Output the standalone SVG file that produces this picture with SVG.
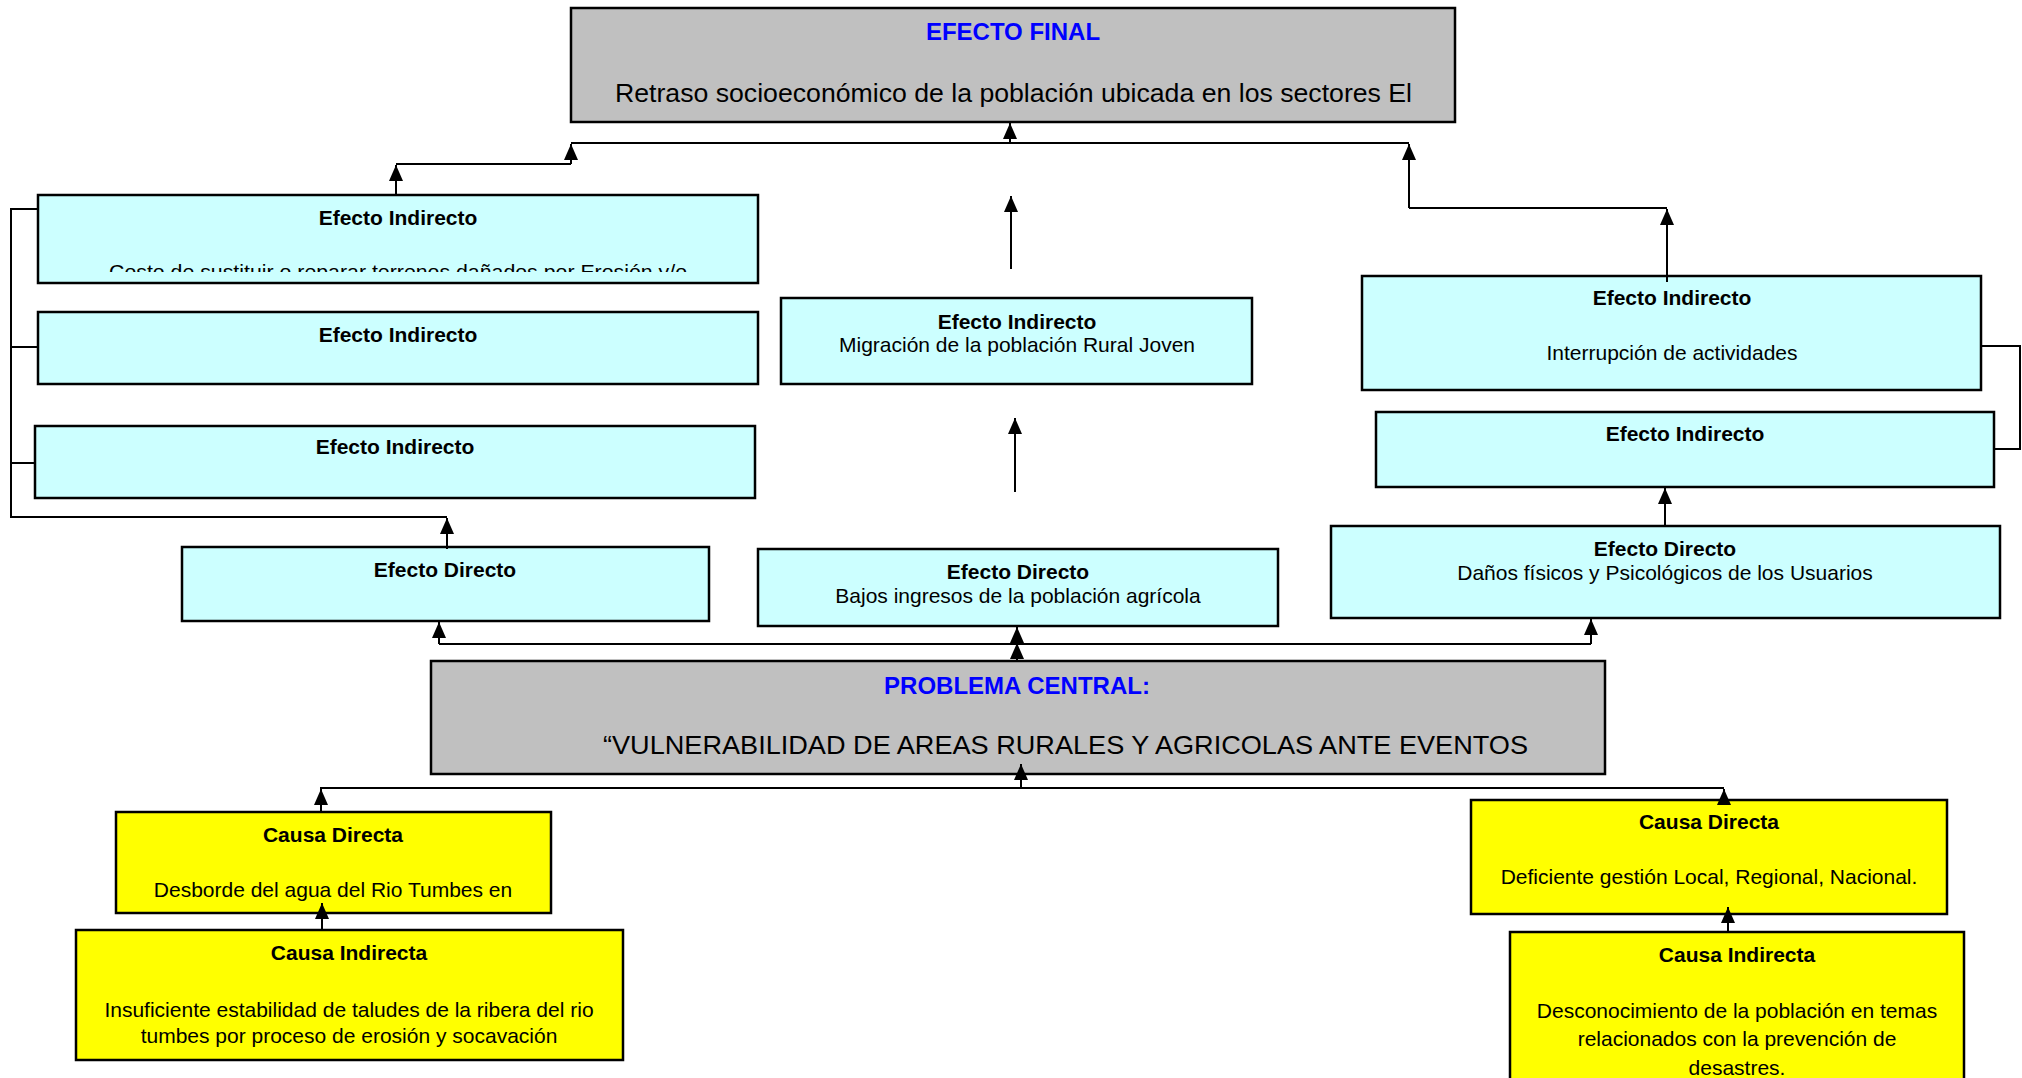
<svg xmlns="http://www.w3.org/2000/svg" width="2022" height="1078" viewBox="0 0 2022 1078">
<defs>
<style>
.box{stroke:#000;stroke-width:2.5}
.gray{fill:#C0C0C0}
.cyan{fill:#CCFFFF}
.yel{fill:#FFFF00}
text{font-family:"Liberation Sans",Arial,sans-serif;fill:#000}
.t{font-size:21px;font-weight:bold;text-anchor:middle}
.d{font-size:21px;text-anchor:middle}
.h{font-size:24px;font-weight:bold;fill:#0000FF;text-anchor:middle}
.big{font-size:26px}
.con{fill:none;stroke:#000;stroke-width:2}
</style>
<marker id="ah" markerUnits="userSpaceOnUse" markerWidth="18" markerHeight="16" refX="16" refY="7" orient="auto">
<path d="M0,0 L16,7 L0,14 Z" fill="#000"/>
</marker>
<clipPath id="clip1"><rect x="38" y="195" width="720" height="77"/></clipPath>
</defs>

<g id="efecto-final">
<rect class="box gray" x="571" y="8" width="884" height="114"/>
<text class="h" x="1013" y="40">EFECTO FINAL</text>
<text class="big" x="615" y="102" textLength="797" lengthAdjust="spacingAndGlyphs">Retraso socioeconómico de la población ubicada en los sectores El</text>
</g>

<g id="ei-left-1">
<rect class="box cyan" x="38" y="195" width="720" height="88"/>
<text class="t" x="398" y="225">Efecto Indirecto</text>
<text class="d" x="398" y="279" textLength="578" lengthAdjust="spacingAndGlyphs" clip-path="url(#clip1)">Costo de sustituir o reparar terrenos dañados por Erosión y/o</text>
</g>
<g id="ei-left-2">
<rect class="box cyan" x="38" y="312" width="720" height="72"/>
<text class="t" x="398" y="342">Efecto Indirecto</text>
</g>
<g id="ei-left-3">
<rect class="box cyan" x="35" y="426" width="720" height="72"/>
<text class="t" x="395" y="454">Efecto Indirecto</text>
</g>
<g id="ed-left">
<rect class="box cyan" x="182" y="547" width="527" height="74"/>
<text class="t" x="445" y="577">Efecto Directo</text>
</g>

<g id="ei-mid">
<rect class="box cyan" x="781" y="298" width="471" height="86"/>
<text class="t" x="1017" y="329">Efecto Indirecto</text>
<text class="d" x="1017" y="352">Migración de la población Rural Joven</text>
</g>
<g id="ed-mid">
<rect class="box cyan" x="758" y="549" width="520" height="77"/>
<text class="t" x="1018" y="579">Efecto Directo</text>
<text class="d" x="1018" y="603">Bajos ingresos de la población agrícola</text>
</g>

<g id="ei-right-1">
<rect class="box cyan" x="1362" y="276" width="619" height="114"/>
<text class="t" x="1672" y="305">Efecto Indirecto</text>
<text class="d" x="1672" y="360">Interrupción de actividades</text>
</g>
<g id="ei-right-2">
<rect class="box cyan" x="1376" y="412" width="618" height="75"/>
<text class="t" x="1685" y="441">Efecto Indirecto</text>
</g>
<g id="ed-right">
<rect class="box cyan" x="1331" y="526" width="669" height="92"/>
<text class="t" x="1665" y="556">Efecto Directo</text>
<text class="d" x="1665" y="580">Daños físicos y Psicológicos de los Usuarios</text>
</g>

<g id="problema-central">
<rect class="box gray" x="431" y="661" width="1174" height="113"/>
<text class="h" x="1017" y="694">PROBLEMA CENTRAL:</text>
<text class="big" x="603" y="754" textLength="925" lengthAdjust="spacingAndGlyphs">“VULNERABILIDAD DE AREAS RURALES Y AGRICOLAS ANTE EVENTOS</text>
</g>

<g id="cd-left">
<rect class="box yel" x="116" y="812" width="435" height="101"/>
<text class="t" x="333" y="842">Causa Directa</text>
<text class="d" x="333" y="897">Desborde del agua del Rio Tumbes en</text>
</g>
<g id="ci-left">
<rect class="box yel" x="76" y="930" width="547" height="130"/>
<text class="t" x="349" y="960">Causa Indirecta</text>
<text class="d" x="349" y="1017">Insuficiente estabilidad de taludes de la ribera del rio</text>
<text class="d" x="349" y="1043">tumbes por proceso de erosión y socavación</text>
</g>
<g id="cd-right">
<rect class="box yel" x="1471" y="800" width="476" height="114"/>
<text class="t" x="1709" y="829">Causa Directa</text>
<text class="d" x="1709" y="884">Deficiente gestión Local, Regional, Nacional.</text>
</g>
<g id="ci-right">
<rect class="box yel" x="1510" y="932" width="454" height="160"/>
<text class="t" x="1737" y="962">Causa Indirecta</text>
<text class="d" x="1737" y="1018">Desconocimiento de la población en temas</text>
<text class="d" x="1737" y="1046">relacionados con la prevención de</text>
<text class="d" x="1737" y="1075">desastres.</text>
</g>

<g id="connectors">
<path class="con" d="M1010,143 V123" marker-end="url(#ah)"/>
<path class="con" d="M571,143 H1409"/>
<path class="con" d="M571,164 V144" marker-end="url(#ah)"/>
<path class="con" d="M396,164 H571"/>
<path class="con" d="M396,194 V165" marker-end="url(#ah)"/>
<path class="con" d="M1409,208 V144" marker-end="url(#ah)"/>
<path class="con" d="M1409,208 H1667"/>
<path class="con" d="M1667,282 V209" marker-end="url(#ah)"/>
<path class="con" d="M1011,269 V196" marker-end="url(#ah)"/>
<path class="con" d="M1015,492 V418" marker-end="url(#ah)"/>
<path class="con" d="M37,209 H11 V517 H447"/>
<path class="con" d="M11,347 H38"/>
<path class="con" d="M11,463 H35"/>
<path class="con" d="M447,549 V518" marker-end="url(#ah)"/>
<path class="con" d="M1981,346 H2020 V449 H1994"/>
<path class="con" d="M1665,526 V488" marker-end="url(#ah)"/>
<path class="con" d="M439,644 H1591"/>
<path class="con" d="M439,644 V622" marker-end="url(#ah)"/>
<path class="con" d="M1591,644 V619" marker-end="url(#ah)"/>
<path class="con" d="M1017,644 V627" marker-end="url(#ah)"/>
<path class="con" d="M1017,661 V643" marker-end="url(#ah)"/>
<path class="con" d="M1021,788 V764" marker-end="url(#ah)"/>
<path class="con" d="M320,788 H1724"/>
<path class="con" d="M321,812 V789" marker-end="url(#ah)"/>
<path class="con" d="M1724,800 V789" marker-end="url(#ah)"/>
<path class="con" d="M322,930 V903" marker-end="url(#ah)"/>
<path class="con" d="M1728,932 V907" marker-end="url(#ah)"/>
</g>
</svg>
